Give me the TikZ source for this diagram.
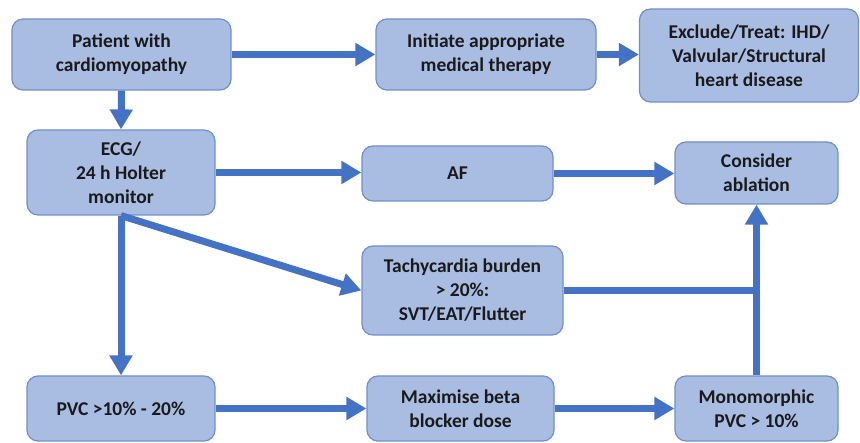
\documentclass[tikz,border=0pt]{standalone}
\usepackage{fontspec}
\setmainfont{Carlito}
\usetikzlibrary{arrows.meta}
\definecolor{boxfill}{HTML}{A9BDE3}
\definecolor{boxline}{HTML}{6F8FCB}
\definecolor{arrowcol}{HTML}{4472C4}
\definecolor{txt}{HTML}{1A1A1A}
\begin{document}
\begin{tikzpicture}[x=1pt,y=-1pt,
  box/.style={draw=boxline,line width=1.2pt,fill=boxfill,rounded corners=11pt,
    align=center,inner sep=2pt,text=txt,
    font=\fontsize{19.5}{24}\selectfont\bfseries},
  conn/.style={draw=arrowcol,line width=7pt},
  arr/.style={conn,-{Triangle[length=20pt,width=22pt]}}]
\useasboundingbox (0,0) rectangle (860,443);
\node[box,minimum width=219pt,minimum height=71pt] (pat) at (121.5,54.5) {Patient with\\cardiomyopathy};
\node[box,minimum width=220pt,minimum height=71pt] (init) at (486,54.5) {Initiate appropriate\\medical therapy};
\node[box,minimum width=219pt,minimum height=93pt] (excl) at (749,55.5) {Exclude/Treat: IHD/\\Valvular/Structural\\heart disease};
\node[box,minimum width=188pt,minimum height=85pt] (ecg) at (121,172.5) {ECG/\\24 h Holter\\monitor};
\node[box,minimum width=191pt,minimum height=55pt] (af) at (457.5,173.5) {AF};
\node[box,minimum width=163pt,minimum height=62pt] (abl) at (756.5,173) {Consider\\ablation};
\node[box,minimum width=201pt,minimum height=89pt] (tachy) at (462.5,290.5) {Tachycardia burden\\{}> 20\%:\\SVT/EAT/Flutter};
\node[box,minimum width=188pt,minimum height=65pt] (pvc) at (121,408.5) {PVC >10\% - 20\%};
\node[box,minimum width=187pt,minimum height=65pt] (beta) at (460.5,408.5) {Maximise beta\\blocker dose};
\node[box,minimum width=163pt,minimum height=65pt] (mono) at (756.5,408.5) {Monomorphic\\PVC > 10\%};
\draw[arr] (pat.east) -- (init.west);
\draw[arr] (init.east) -- (init.east -| excl.west);
\draw[arr] (pat.south) -- (ecg.north);
\draw[arr] (ecg.east) -- (ecg.east -| af.west);
\draw[arr] (af.east) -- (af.east -| abl.west);
\draw[arr] (ecg.south) -- (tachy.west);
\draw[arr] (ecg.south) -- (pvc.north);
\draw[conn] (tachy.east) -- (tachy.east -| mono.north);
\draw[arr] (mono.north) -- (abl.south);
\draw[arr] (pvc.east) -- (beta.west);
\draw[arr] (beta.east) -- (mono.west);
\end{tikzpicture}
\end{document}
